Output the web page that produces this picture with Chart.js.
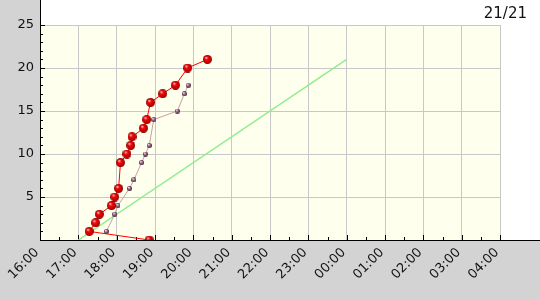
<!DOCTYPE html>
<html>
<head>
<meta charset="utf-8">
<script src="https://cdn.jsdelivr.net/npm/chart.js@4/dist/chart.umd.min.js"></script>
<style>
  html, body { margin: 0; padding: 0; background: #fff; }
  canvas { display: block; }
</style>
</head>
<body>
<canvas id="progress" width="540" height="300"></canvas>
<script>
// solve progress: score reached at a clock time, axis runs 16:00 -> 04:00
const titleText = '21/21';

const teamTimes  = ['18:51', '17:17', '17:27', '17:33', '17:52', '17:57', '18:03', '18:06', '18:16',
                    '18:22', '18:24', '18:42', '18:47', '18:53', '19:12', '19:32', '19:51', '20:22'];
const teamScores = [0, 1, 2, 3, 4, 5, 6, 9, 10, 11, 12, 13, 14, 16, 17, 18, 20, 21];

const rivalTimes  = ['17:44', '17:57', '18:02', '18:20', '18:27', '18:39', '18:45', '18:51',
                     '18:58', '19:35', '19:46', '19:52'];
const rivalScores = [1, 3, 4, 6, 7, 9, 10, 11, 14, 15, 17, 18];

const paceTimes  = ['17:00', '00:00'];
const paceScores = [0, 21];

const yTicks = [0, 5, 10, 15, 20, 25];
const startHour = 16;
const spanHours = 12;

// minutes after 16:00, wrapping past midnight
function toMinutes(hhmm) {
  const [h, m] = hhmm.split(':').map(Number);
  return ((h - startHour + 24) % 24) * 60 + m;
}

function hourLabel(min) {
  const h = (startHour + Math.round(min / 60)) % 24;
  return String(h).padStart(2, '0') + ':00';
}

function pairs(times, values) {
  return times.map((t, i) => ({ x: toMinutes(t), y: values[i] }));
}

function ballSprite(size, stops) {
  const c = document.createElement('canvas');
  c.width = size; c.height = size;
  const g = c.getContext('2d');
  const r = size / 2;
  const grad = g.createRadialGradient(r * 0.7, r * 0.6, r * 0.1, r, r, r);
  stops.forEach(([o, col]) => grad.addColorStop(o, col));
  g.fillStyle = grad;
  g.beginPath(); g.arc(r, r, r, 0, Math.PI * 2); g.fill();
  return c;
}

const redBall  = ballSprite(9, [[0, '#ffb0b0'], [0.3, '#f00808'], [0.8, '#c00000'], [1, '#700000']]);
const pinkBall = ballSprite(5, [[0, '#f8d8f0'], [0.5, '#906080'], [1, '#402030']]);

const frame = {
  id: 'frame',
  beforeDraw(chart) {
    const { ctx, chartArea: a, width, height } = chart;
    ctx.save();
    ctx.fillStyle = '#ffffff';
    ctx.fillRect(0, 0, width, height);
    ctx.fillStyle = '#d3d3d3';
    ctx.fillRect(0, 0, a.left, height);
    ctx.fillRect(0, a.bottom, width, height - a.bottom);
    ctx.fillStyle = '#ffffee';
    ctx.fillRect(a.left, a.top, a.right - a.left, a.bottom - a.top);
    ctx.restore();
  },
  beforeDatasetsDraw(chart) {
    const { ctx, chartArea: a, width, scales: { x, y } } = chart;
    ctx.save();
    ctx.strokeStyle = '#000';
    ctx.lineWidth = 1;
    ctx.beginPath();
    ctx.moveTo(a.left + 0.5, 0);
    ctx.lineTo(a.left + 0.5, a.bottom);
    ctx.moveTo(a.left, a.bottom + 0.5);
    ctx.lineTo(width, a.bottom + 0.5);
    for (let m = 0; m <= spanHours * 60; m += 30) {
      const px = Math.round(x.getPixelForValue(m)) + 0.5;
      const len = m % 60 === 0 ? 5 : 3;
      ctx.moveTo(px, a.bottom);
      ctx.lineTo(px, a.bottom - len);
    }
    for (let v = 0; v <= 25; v++) {
      const py = Math.round(y.getPixelForValue(v)) + 0.5;
      const len = v % 5 === 0 ? 5 : 3;
      ctx.moveTo(a.left, py);
      ctx.lineTo(a.left + len, py);
    }
    ctx.stroke();
    ctx.fillStyle = '#111';
    ctx.font = '15px "DejaVu Sans"';
    ctx.textAlign = 'right';
    ctx.textBaseline = 'alphabetic';
    ctx.fillText(titleText, width - 13, 18);
    ctx.restore();
  }
};

new Chart(document.getElementById('progress'), {
  type: 'line',
  data: {
    datasets: [
      {
        label: 'team',
        data: pairs(teamTimes, teamScores),
        borderColor: '#ff0000',
        borderWidth: 1,
        pointStyle: redBall,
        pointRadius: 4,
        clip: 0,
        tension: 0,
      },
      {
        label: 'rival',
        data: pairs(rivalTimes, rivalScores),
        borderColor: '#c8a0a0',
        borderWidth: 1,
        pointStyle: pinkBall,
        pointRadius: 2,
        clip: 0,
        tension: 0,
      },
      {
        label: 'pace',
        data: pairs(paceTimes, paceScores),
        borderColor: '#90ee90',
        borderWidth: 1.5,
        pointRadius: 0,
        clip: 0,
        tension: 0,
      },
    ],
  },
  options: {
    responsive: false,
    animation: false,
    layout: { padding: { left: 0, right: 40, top: 25, bottom: 0 } },
    plugins: { legend: { display: false }, tooltip: { enabled: false } },
    scales: {
      x: {
        type: 'linear',
        min: 0,
        max: spanHours * 60,
        afterFit: s => { s.height = 60; },
        afterBuildTicks: s => {
          s.ticks = [];
          for (let m = 0; m <= spanHours * 60; m += 60) s.ticks.push({ value: m });
        },
        grid: { color: '#c8c8c8', drawTicks: false },
        border: { display: false },
        ticks: {
          autoSkip: false,
          minRotation: 45,
          maxRotation: 45,
          padding: 5,
          labelOffset: -3,
          color: '#111',
          font: { family: 'DejaVu Sans', size: 13 },
          callback: v => hourLabel(v),
        },
      },
      y: {
        min: 0,
        max: 25,
        afterFit: s => { s.width = 40; },
        afterBuildTicks: s => { s.ticks = yTicks.map(v => ({ value: v })); },
        grid: { color: c => (c.tick && c.tick.value === 0 ? 'rgba(0,0,0,0)' : '#c8c8c8'), drawTicks: false },
        border: { display: false },
        ticks: {
          padding: 6,
          color: '#111',
          font: { family: 'DejaVu Sans', size: 13 },
          callback: v => (v === 0 ? '' : String(v)),
        },
      },
    },
  },
  plugins: [frame],
});
</script>
</body>
</html>
